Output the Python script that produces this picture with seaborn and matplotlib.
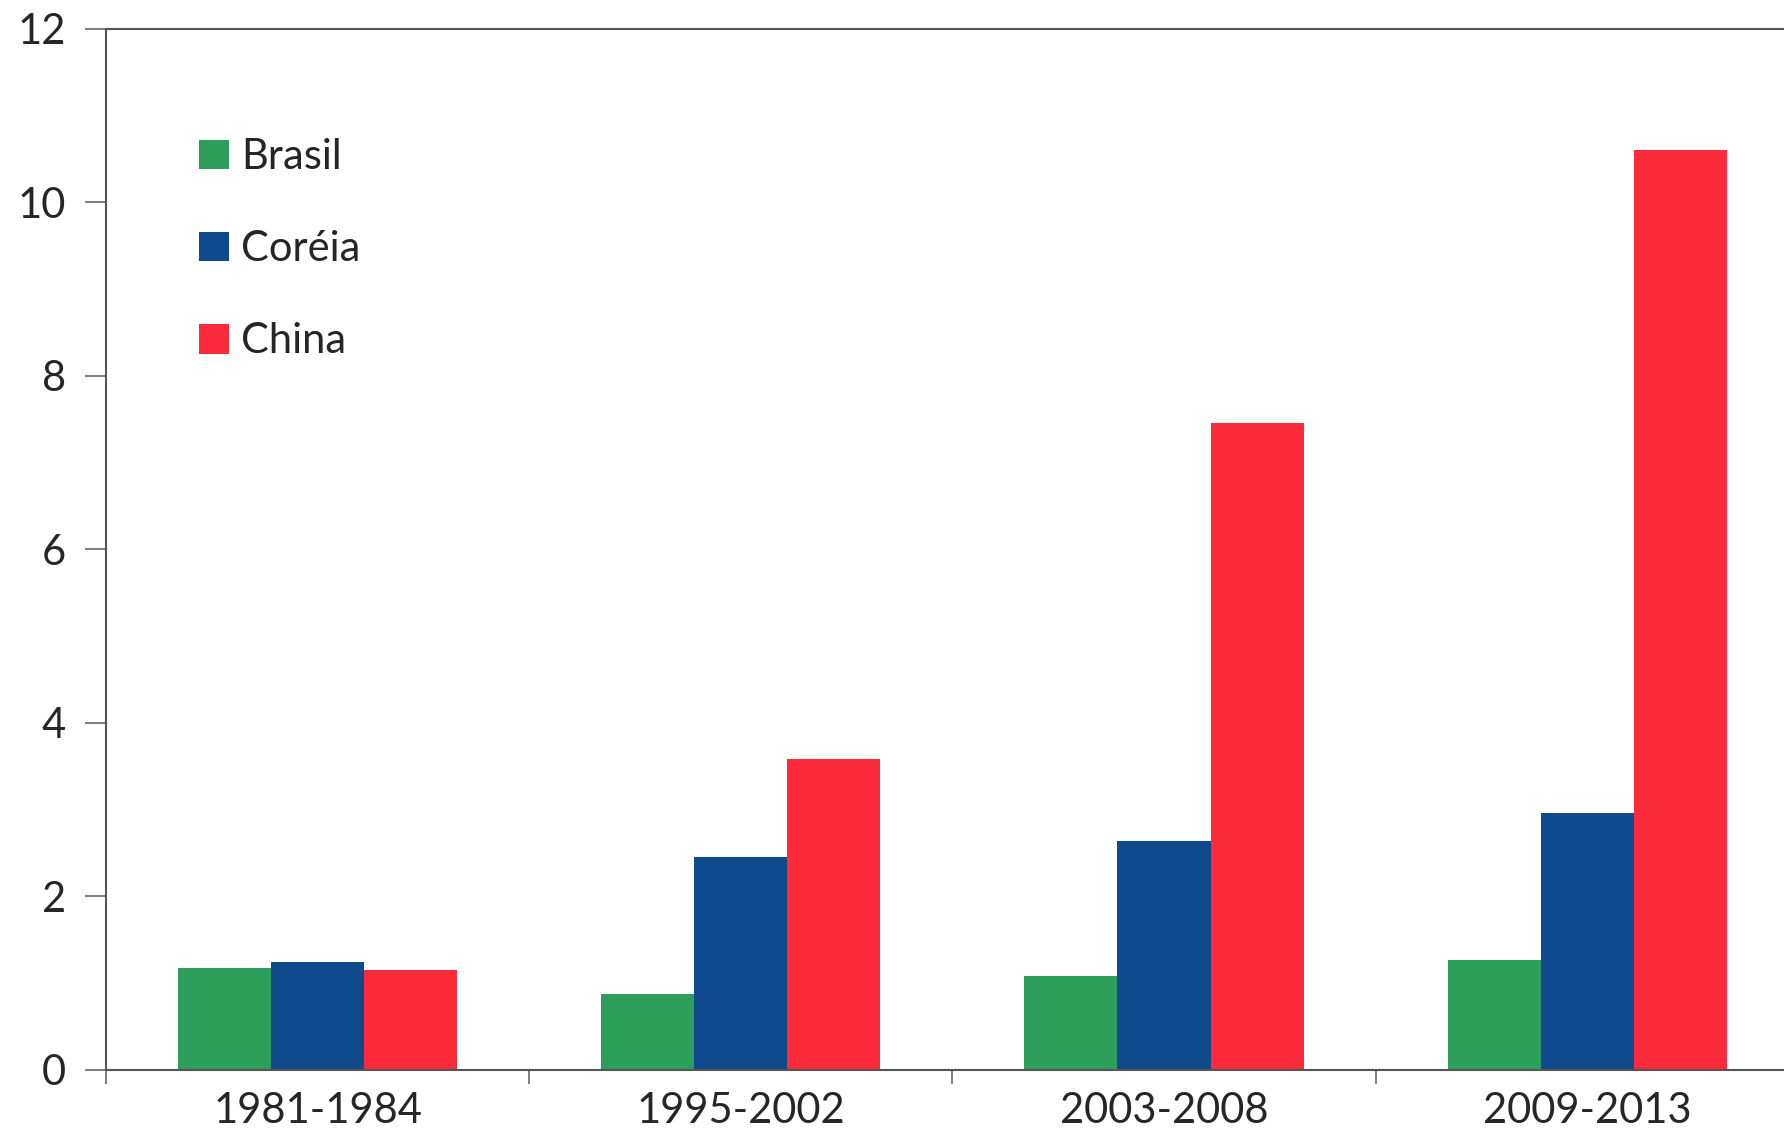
import matplotlib.pyplot as plt
import seaborn as sns
import pandas as pd

# Data
periods = ['1981-1984', '1995-2002', '2003-2008', '2009-2013']
brasil = [1.18, 0.87, 1.08, 1.27]
coreia = [1.25, 2.45, 2.64, 2.96]
china = [1.15, 3.58, 7.45, 10.6]

df = pd.DataFrame({
    'periodo': periods * 3,
    'valor': brasil + coreia + china,
    'pais': ['Brasil'] * 4 + ['Coréia'] * 4 + ['China'] * 4,
})

sns.set_style('white')
plt.rcParams['font.family'] = ['Lato', 'DejaVu Sans']

palette = {'Brasil': '#2e9e5b', 'Coréia': '#0f4a8c', 'China': '#fb2b3b'}

fig = plt.figure(figsize=(17.84, 11.44), dpi=100)
ax = fig.add_axes([0.0594, 0.0647, 0.9406, 0.9103])
sns.barplot(data=df, x='periodo', y='valor', hue='pais', palette=palette,
            width=0.66, gap=0, saturation=1, linewidth=0, ax=ax)

ax.set_ylim(0, 12)
ax.set_xlim(-0.5, 3.465)
ax.set_yticks([0, 2, 4, 6, 8, 10, 12])
ax.tick_params(axis='y', direction='out', length=15, width=1.2, color='#666666',
               labelsize=30, pad=14, left=True)

# separators between groups as major ticks, labels as minor ticks
ax.set_xticks([-0.5, 0.5, 1.5, 2.5])
ax.set_xticklabels([])
ax.set_xticks([0, 1, 2, 3], minor=True)
ax.set_xticklabels(periods, minor=True)
ax.tick_params(axis='x', which='major', direction='out', length=10, width=1.2,
               color='#666666', bottom=True)
ax.tick_params(axis='x', which='minor', length=0, labelsize=30, pad=16)
ax.set_xlabel('')
ax.set_ylabel('')

for side in ['left', 'bottom', 'top']:
    ax.spines[side].set_color('#555555')
    ax.spines[side].set_linewidth(1.5)
ax.spines['right'].set_visible(False)

ax.legend(loc='upper left', bbox_to_anchor=(0.043, 0.915), frameon=False,
          fontsize=30, handlelength=0.72, handleheight=0.72,
          handletextpad=0.3, labelspacing=1.3, borderpad=0)

fig.savefig('out.png', dpi=100)
